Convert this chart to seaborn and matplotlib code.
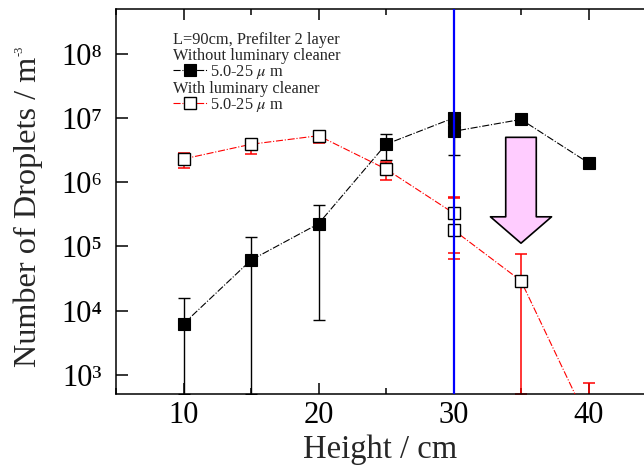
import numpy as np
import matplotlib
matplotlib.use("Agg")
import matplotlib.pyplot as plt
import matplotlib.patches as mpatches
from matplotlib.ticker import FixedLocator, MultipleLocator, NullLocator, FuncFormatter
import seaborn as sns
import pandas as pd

# ── Data ──────────────────────────────────────────────────────────────────────
height = [10, 15, 20, 25, 30, 30, 35, 40]

# Without luminary cleaner (filled squares)
without_val  = [6.2e3, 6.1e4, 2.25e5, 3.9e6, 1.0e7, 6.2e6, 9.5e6, 2.0e6]
without_low  = [5.0e2, 5.0e2, 7.0e3, 2.2e6, 8.0e6, 2.7e6, 9.5e6, 2.0e6]
without_high = [1.55e4, 1.38e5, 4.37e5, 5.6e6, 1.2e7, 7.0e6, 9.5e6, 2.0e6]

# With luminary cleaner (open squares)
with_val  = [2.3e6, 3.9e6, 5.3e6, 1.6e6, 3.3e5, 1.8e5, 2.9e4, 1.8e2]
with_low  = [1.66e6, 2.75e6, 4.1e6, 1.07e6, 7.8e4, 6.3e4, 5.0e2, 1.0e2]
with_high = [2.9e6, 4.7e6, 6.0e6, 2.05e6, 5.8e5, 5.6e5, 7.6e4, 7.3e2]

y_ticks = [1e3, 1e4, 1e5, 1e6, 1e7, 1e8]

legend_title = "L=90cm, Prefilter 2 layer"
group_labels = ["Without luminary cleaner", "With luminary cleaner"]
series_label = r"5.0-25 $\mu$ m"

PINK = "#FFCCFF"
RED = "#FF0000"
SUP = str.maketrans("0123456789-", "⁰¹²³⁴⁵⁶⁷⁸⁹⁻")

# ── Style ─────────────────────────────────────────────────────────────────────
sns.set_theme(style="ticks")
plt.rcParams["font.family"] = ["Liberation Serif", "DejaVu Serif"]
plt.rcParams["mathtext.fontset"] = "stix"
plt.rcParams["axes.linewidth"] = 1.1

fig = plt.figure(figsize=(6.44, 4.69), dpi=100)
fig.patch.set_facecolor("white")
L, R, T, B = 116, 656, 9, 394
ax = fig.add_axes([L / 644, (469 - B) / 469, (R - L) / 644, (B - T) / 469])
ax.set_facecolor("white")

df_wo = pd.DataFrame({"h": height, "n": without_val})
df_w = pd.DataFrame({"h": height, "n": with_val})

# error bars
wv, wl, wh = map(np.array, (without_val, without_low, without_high))
ax.errorbar(height, wv, yerr=[wv - wl, wh - wv], fmt="none", ecolor="black",
            elinewidth=1.0, capsize=4.3, capthick=1.0, zorder=2)
v, lo, hi = map(np.array, (with_val, with_low, with_high))
ax.errorbar(height, v, yerr=[v - lo, hi - v], fmt="none", ecolor=RED,
            elinewidth=1.1, capsize=4.3, capthick=1.1, zorder=2)

# lines + markers
sns.lineplot(data=df_wo, x="h", y="n", sort=False, estimator=None, ax=ax,
             color="black", linestyle="-.", linewidth=0.8, marker="s",
             markersize=9, markerfacecolor="black", markeredgecolor="black",
             markeredgewidth=0.8, zorder=3, label=series_label)
sns.lineplot(data=df_w, x="h", y="n", sort=False, estimator=None, ax=ax,
             color=RED, linestyle="-.", linewidth=0.8, marker="s",
             markersize=8, markerfacecolor="white", markeredgecolor="black",
             markeredgewidth=1.0, zorder=3, label=series_label)

ax.axvline(30, color="#0000FF", linewidth=1.6, zorder=5)

# pink arrow
arrow = mpatches.FancyArrowPatch(
    posA=(35, 5.0e6), posB=(35, 1.12e5),
    arrowstyle="simple,head_length=19,head_width=44,tail_width=22",
    mutation_scale=1, facecolor=PINK, edgecolor="black", linewidth=1.2,
    shrinkA=0, shrinkB=0, zorder=4)
ax.add_patch(arrow)

# axes
ax.set_yscale("log")
ax.set_xlim(5, 45)
ax.set_ylim(5e2, 5e8)
ax.xaxis.set_major_locator(MultipleLocator(10))
ax.xaxis.set_minor_locator(MultipleLocator(5))
ax.yaxis.set_major_locator(FixedLocator(y_ticks))
ax.yaxis.set_minor_locator(NullLocator())
ax.yaxis.set_major_formatter(
    FuncFormatter(lambda val, pos: "10" + str(int(round(np.log10(val)))).translate(SUP)))
ax.tick_params(axis="both", which="both", direction="in", top=True, right=True,
               colors="black", width=1.1)
ax.tick_params(axis="x", which="major", length=8, labelsize=22, pad=5)
ax.tick_params(axis="x", which="minor", length=4.5)
ax.tick_params(axis="y", which="major", length=8.5, labelsize=22, pad=10)
for s in ax.spines.values():
    s.set_color("black")
ax.spines["right"].set_visible(False)


def fx(px):
    return (px - L) / (R - L)


def fy(py):
    return (B - py) / (B - T)


ax.set_xlabel("Height / cm", fontsize=23.5)
ax.xaxis.label.set_va("baseline")
ax.xaxis.set_label_coords(0.49, fy(458))

ax.set_ylabel("Number of Droplets / m", fontsize=23.2)
ax.yaxis.label.set_va("baseline")
ax.yaxis.label.set_ha("left")
ax.yaxis.set_label_coords(fx(36.5), fy(367))

# legend block
ax.text(fx(173), fy(44), legend_title, fontsize=11.8, va="baseline", ha="left",
        transform=ax.transAxes)
ax.text(fx(173), fy(60), group_labels[0], fontsize=11.8, va="baseline", ha="left",
        transform=ax.transAxes)
ax.text(fx(173), fy(93), group_labels[1], fontsize=11.8, va="baseline", ha="left",
        transform=ax.transAxes)

handles, labels = ax.get_legend_handles_labels()
leg1 = ax.legend([handles[0]], [labels[0]], loc="center left",
                 bbox_to_anchor=(fx(173), fy(72)), frameon=False, borderpad=0,
                 borderaxespad=0, handlelength=2.05, handletextpad=0.2,
                 numpoints=1, fontsize=11.8)
ax.add_artist(leg1)
ax.legend([handles[1]], [labels[1]], loc="center left",
          bbox_to_anchor=(fx(173), fy(104.5)), frameon=False, borderpad=0,
          borderaxespad=0, handlelength=2.05, handletextpad=0.2,
          numpoints=1, fontsize=11.8)

# small superscript "-3" after the y label
fig.canvas.draw()
bb = ax.yaxis.label.get_window_extent()
fig.text(23 / 644, (bb.y1 + 1) / 469, "-3", fontsize=9, rotation=90,
         rotation_mode="anchor", ha="left", va="baseline")

fig.savefig("out.png", dpi=100, facecolor="white")
